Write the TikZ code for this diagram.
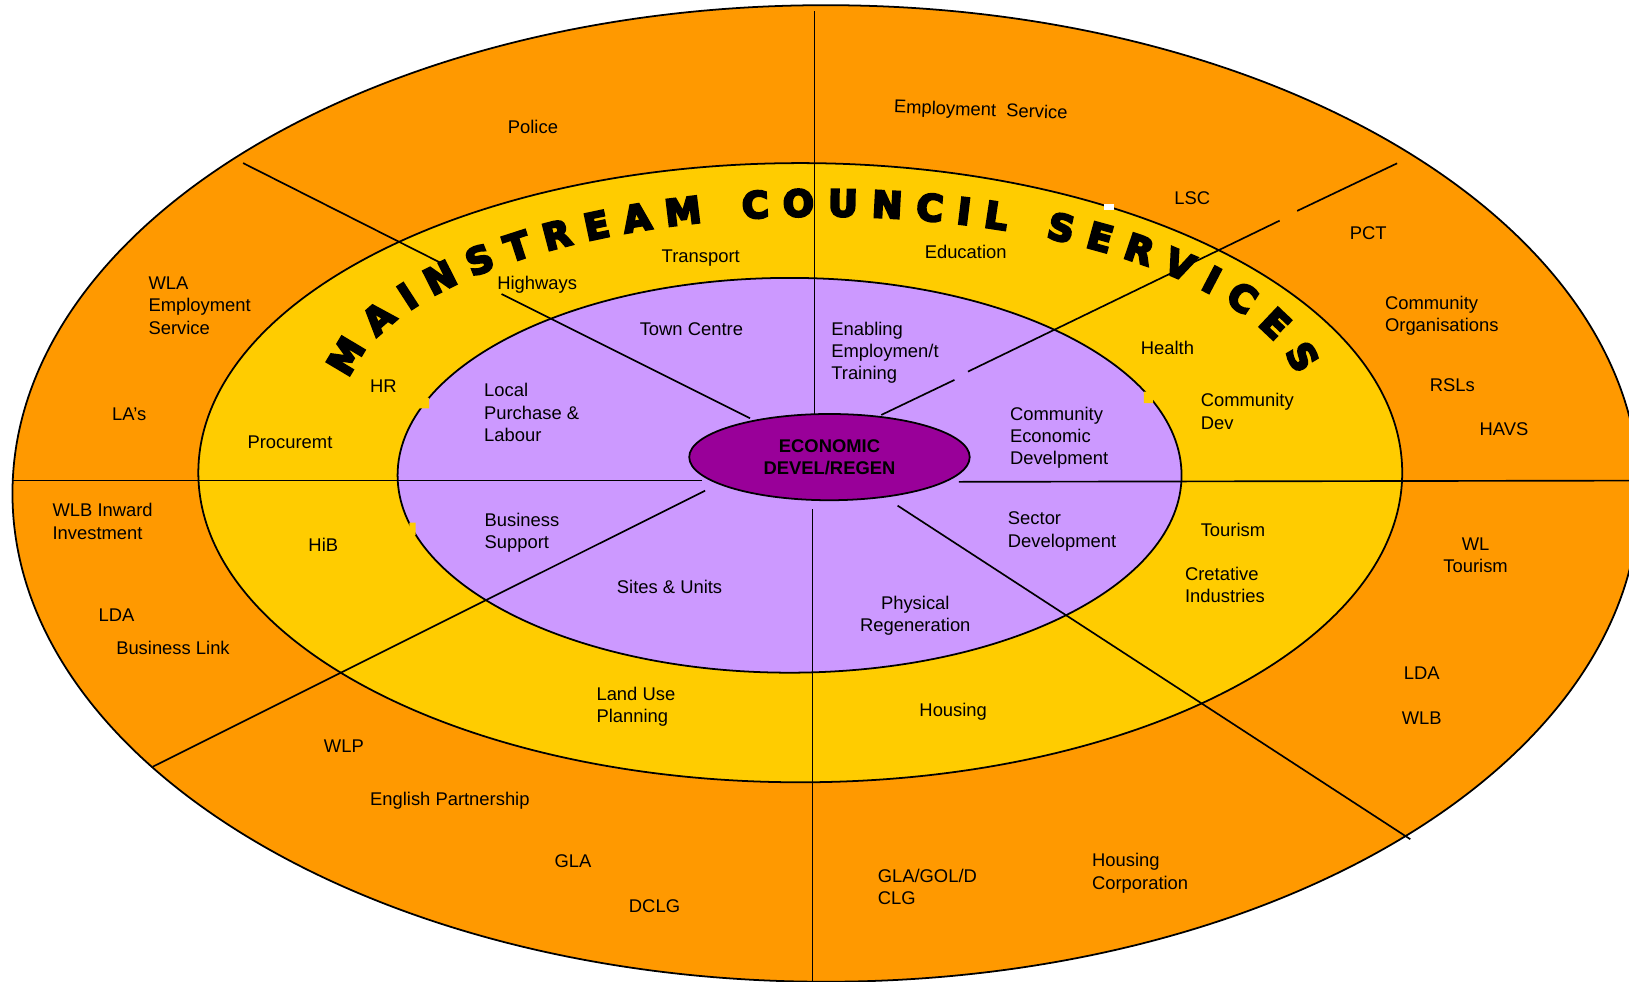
\documentclass[tikz,border=0pt]{standalone}
\usepackage{fontspec}
\setmainfont{Liberation Sans}
\newfontfamily\bannerfont{DejaVu Sans Bold}[FakeBold=6.5]
\usetikzlibrary{shapes.geometric,decorations.text}
\definecolor{ringorange}{HTML}{FF9900}
\definecolor{ringyellow}{HTML}{FFCC00}
\definecolor{ringlilac}{HTML}{CC99FF}
\definecolor{corepurple}{HTML}{990099}
\newcommand\labelfont{\fontsize{17.7}{21.5}\selectfont}

\begin{document}
\begin{tikzpicture}[x=1pt,y=1pt,
    ring/.style={line width=1.7pt},
    spoke/.style={line width=1.6pt},
    lbl/.style={inner sep=0pt,font=\labelfont,anchor=north,align=center},
    lbll/.style={lbl,anchor=north west,align=left},
    patch/.style={fill=ringyellow}]
	\useasboundingbox (0,0) rectangle (1568,945);
	\clip (0,0) rectangle (1568,945);
	\draw[ring,fill=ringorange](795,470) ellipse[x radius=783,y radius=470];
	\draw[ring,fill=ringyellow](770.3,490) ellipse[x radius=579.4,y radius=298];
	\draw[ring,fill=ringlilac](760,487.5) ellipse[x radius=377.3,y radius=190];
	\fill[patch](403.5,552) rectangle (413,562) (394,430) rectangle (400,442) (1101,557) rectangle (1110,568);
	\fill[white](1063,743) rectangle (1072,749);
	% spokes
	\coordinate (top-o) at (784,934);      \coordinate (top-i) at (784,546.4);
	\coordinate (ur-o) at (1344.8,787.8);  \coordinate (ur-a) at (1248.6,742);
	\coordinate (ur-b) at (1231.7,732.6);  \coordinate (ur-c) at (931.7,587.3);
	\coordinate (ur-d) at (918.7,579.3);   \coordinate (ur-i) at (848.3,545.6);
	\coordinate (ul-o) at (234,788);       \coordinate (ul-a) at (431.5,688.3);
	\coordinate (ul-b) at (482.8,662);     \coordinate (ul-i) at (722,542.4);
	\coordinate (l-o) at (12.8,482.4);     \coordinate (l-i) at (676,482.4);
	\coordinate (ll-i) at (678.7,472.7);   \coordinate (ll-o) at (147,207);
	\coordinate (b-i) at (782,454.8);      \coordinate (b-o) at (782,0);
	\coordinate (lr-i) at (864,458.3);     \coordinate (lr-o) at (1357.5,137.2);
	\coordinate (r-i) at (923,481.2);      \coordinate (r-o) at (1575,482.4);
	\foreach \a/\b in {top-o/top-i,ur-o/ur-a,ur-b/ur-c,ur-d/ur-i,ul-o/ul-a,ul-b/ul-i,
	                   l-o/l-i,ll-i/ll-o,b-i/b-o,lr-i/lr-o,r-i/r-o}
		\draw[spoke](\a)--(\b);
	\node[ellipse,draw,line width=1.7pt,fill=corepurple,minimum width=270pt,minimum height=83pt,
	      inner sep=0pt,font=\labelfont\bfseries,align=center] (core) at (798.4,505) {ECONOMIC\\DEVEL/REGEN};
	% outer ring
	\node[lbl] (police) at (513,829.5) {Police};
	\node[lbl,anchor=center,rotate=-2] (empserv) at (944,838) {Employment\ \ Service};
	\node[lbl] (lsc) at (1147.6,760.5) {LSC};
	\node[lbl] (pct) at (1317,726.8) {PCT};
	\node[lbll] (commorg) at (1333,660.1) {Community\\Organisations};
	\node[lbl] (rsl) at (1398,580.9) {RSLs};
	\node[lbl] (havs) at (1447.6,538.2) {HAVS};
	\node[lbl] (wltour) at (1420.3,427.8) {WL\\Tourism};
	\node[lbl] (ldaright) at (1368.6,303.4) {LDA};
	\node[lbl] (wlb) at (1368.5,260) {WLB};
	\node[lbll] (housecorp) at (1051,123.7) {Housing\\Corporation};
	\node[lbll] (glagol) at (844.7,108.6) {GLA/GOL/D\\CLG};
	\node[lbl] (dclg) at (630,79.4) {DCLG};
	\node[lbl] (gla) at (551.5,123) {GLA};
	\node[lbl] (engpart) at (433,182.4) {English Partnership};
	\node[lbl] (wlp) at (331,233.4) {WLP};
	\node[lbl] (buslink) at (166.5,327.7) {Business Link};
	\node[lbl] (ldaleft) at (112.2,359.5) {LDA};
	\node[lbll] (wlbinward) at (50.4,460.6) {WLB Inward\\Investment};
	\node[lbl] (las) at (124.4,553) {LA’s};
	\node[lbll] (wla) at (142.8,678.7) {WLA\\Employment\\Service};
	% middle ring
	\node[lbl] (transport) at (674.5,705) {Transport};
	\node[lbl] (education) at (929.5,709.2) {Education};
	\node[lbl] (highways) at (517,679.3) {Highways};
	\node[lbll] (health) at (1097.9,617.1) {Health};
	\node[lbl] (hr) at (369,580) {HR};
	\node[lbl] (procure) at (279.1,525.4) {Procuremt};
	\node[lbll] (commdev) at (1155.6,566.4) {Community\\Dev};
	\node[lbl] (hib) at (311.2,426.9) {HiB};
	\node[lbll] (tourism) at (1155.6,441.3) {Tourism};
	\node[lbll] (creative) at (1140.5,399.6) {Cretative\\Industries};
	\node[lbll] (landuse) at (574,284) {Land Use\\Planning};
	\node[lbl] (housing) at (917.5,268.7) {Housing};
	% inner ring
	\node[lbl] (towncentre) at (665.5,634.4) {Town Centre};
	\node[lbll] (enabling) at (800,635.4) {Enabling\\Employmen/t\\Training};
	\node[lbll] (localpurch) at (465.8,576) {Local\\Purchase \&\\Labour};
	\node[lbll] (commecon) at (972,553.6) {Community\\Economic\\Develpment};
	\node[lbll] (bussupport) at (466.3,451.3) {Business\\Support};
	\node[lbll] (sector) at (970,452.5) {Sector\\Development};
	\node[lbl] (sites) at (644.5,386.3) {Sites \& Units};
	\node[lbl] (physical) at (881,371.4) {Physical\\Regeneration};
	% banner
	\path[decorate,decoration={text along path,text align={fit to path},
	      text={|\bannerfont\fontsize{35}{35}\selectfont|MAINSTREAM COUNCIL SERVICES}}]
		(793,553) ++(171.5:462 and 184) arc[start angle=171.5,end angle=9.7,x radius=462,y radius=184];
\end{tikzpicture}
\end{document}
